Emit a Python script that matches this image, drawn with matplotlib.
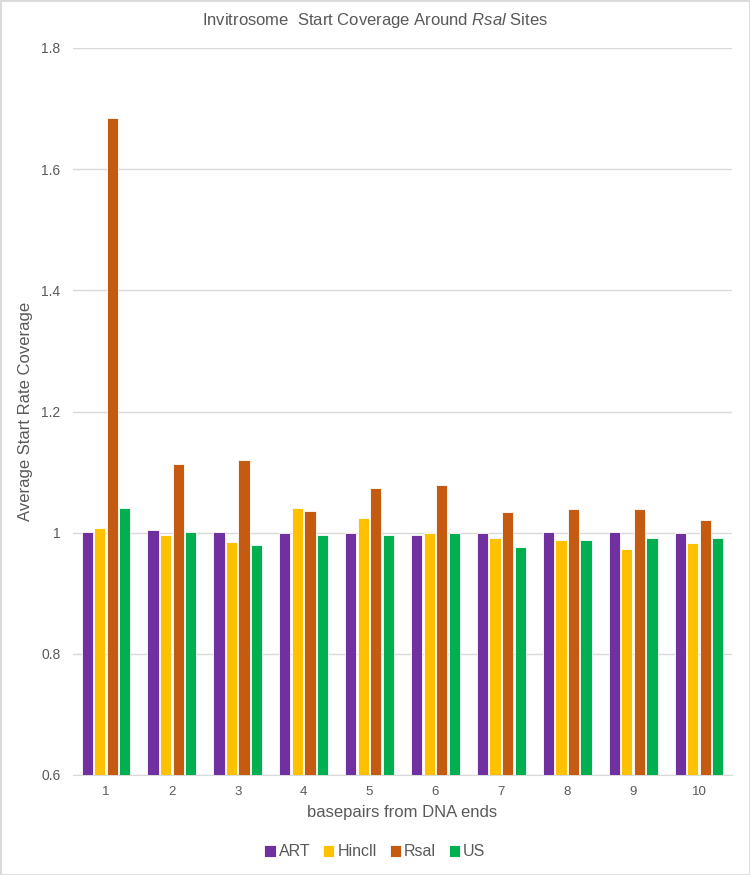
import matplotlib.pyplot as plt
import numpy as np
from matplotlib.ticker import FuncFormatter

plt.rcParams["font.family"] = ["Liberation Sans", "DejaVu Sans"]
plt.rcParams["mathtext.fontset"] = "custom"
plt.rcParams["mathtext.it"] = "Liberation Sans:italic"
plt.rcParams["mathtext.rm"] = "Liberation Sans"

positions = [1, 2, 3, 4, 5, 6, 7, 8, 9, 10]
series_names = ["ART", "HincII", "RsaI", "US"]
art = [1.001, 1.004, 1.001, 0.999, 0.999, 0.996, 0.999, 1.001, 1.001, 0.999]
hincii = [1.007, 0.996, 0.984, 1.041, 1.025, 1.000, 0.992, 0.988, 0.973, 0.983]
rsai = [1.684, 1.113, 1.120, 1.036, 1.074, 1.079, 1.034, 1.039, 1.039, 1.021]
us = [1.041, 1.001, 0.980, 0.996, 0.996, 0.999, 0.976, 0.988, 0.992, 0.992]
legend_labels = ["ART", "Hincll", "Rsal", "US"]
colors = ["#7030A0", "#FFC000", "#C55A11", "#00B050"]

fig = plt.figure(figsize=(7.5, 8.75), dpi=100)
ax = fig.add_axes([73 / 750, 1 - 775 / 875, (732 - 73) / 750, (775 - 48) / 875])

x = np.arange(len(positions))
width = 0.17
step = 0.19
for i, (vals, col, lab) in enumerate(zip([art, hincii, rsai, us], colors, legend_labels)):
    ax.bar(x + (i - 1.5) * step, np.array(vals) - 0.6, width, bottom=0.6, color=col,
           edgecolor="white", linewidth=0.6, label=lab, zorder=3)

ax.set_ylim(0.6, 1.8)
ax.set_xlim(-0.5, len(positions) - 0.5)
ax.set_yticks([0.6, 0.8, 1.0, 1.2, 1.4, 1.6, 1.8])
ax.yaxis.set_major_formatter(FuncFormatter(lambda v, p: f"{v:g}"))
ax.set_xticks(x)
ax.set_xticklabels([str(p) for p in positions])
ax.grid(axis="y", color="#D9D9D9", linewidth=1, zorder=0)
for s in ["top", "right", "left"]:
    ax.spines[s].set_visible(False)
ax.spines["bottom"].set_color("#D9D9D9")
ax.tick_params(axis="both", length=0, colors="#595959")
ax.tick_params(axis="x", pad=8, labelsize=9.5)
ax.tick_params(axis="y", pad=9, labelsize=10)

ax.set_xlabel("basepairs from DNA ends", fontsize=12, color="#595959", labelpad=5)
ax.set_ylabel("Average Start Rate Coverage", fontsize=12, color="#595959", labelpad=6)
fig.text(0.5, 1 - 21 / 875, r"Invitrosome  Start Coverage Around $\it{Rsal}$ Sites",
         ha="center", va="center", fontsize=12, color="#595959")

leg = fig.legend(loc="center", bbox_to_anchor=(0.5, 1 - 852 / 875), ncol=4, frameon=False,
                 fontsize=11.5, handlelength=0.7, handleheight=0.7, handletextpad=0.2,
                 columnspacing=0.8, labelcolor="#595959")

fig.patches.append(plt.Rectangle((0, 0), 1, 1, transform=fig.transFigure, fill=False,
                                 edgecolor="#D9D9D9", linewidth=2))
fig.savefig("out.png", dpi=100, facecolor="white")
